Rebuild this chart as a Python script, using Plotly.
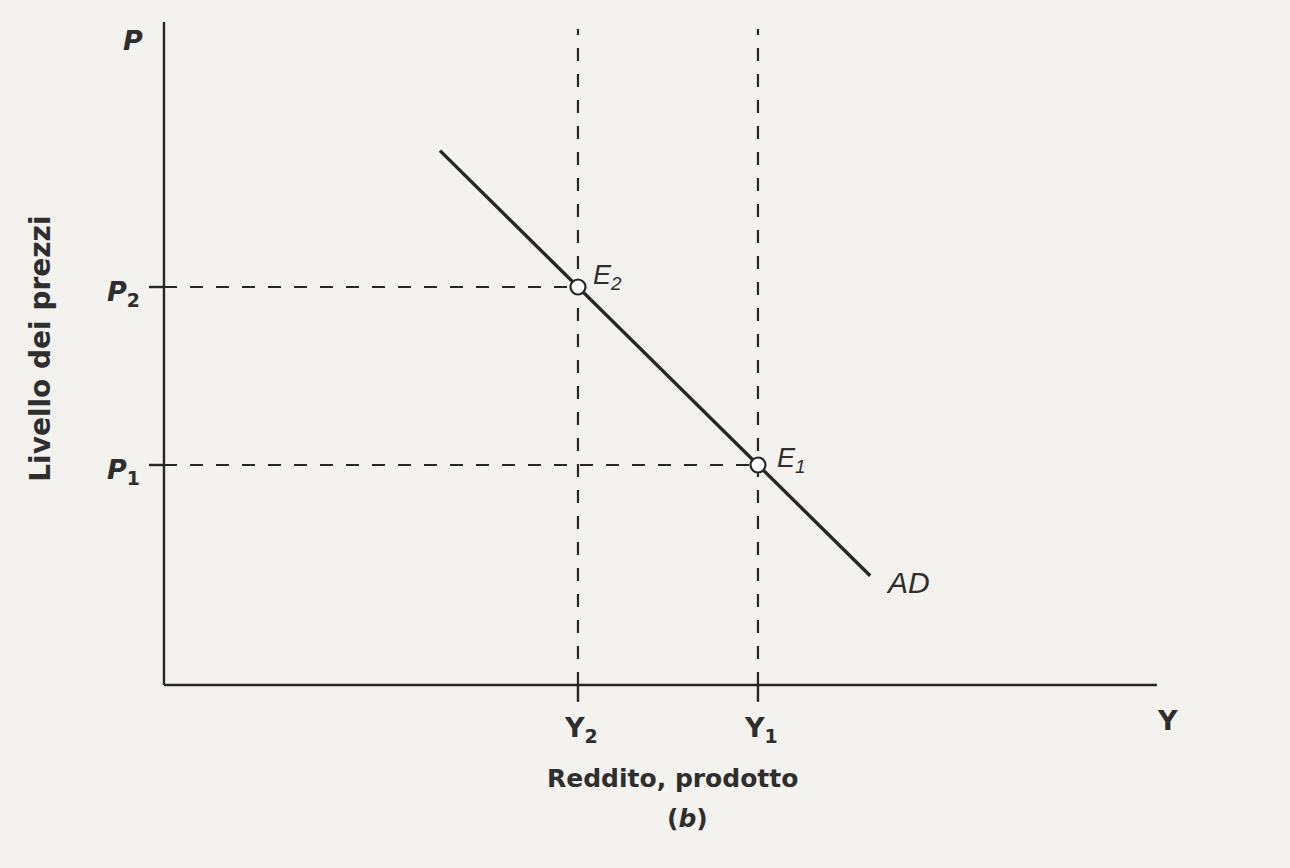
import plotly.graph_objects as go

# Output (Y) and price level (P) values for the two equilibria
y_levels = {"Y2": 6.9, "Y1": 9.9}
p_levels = {"P2": 9.95, "P1": 5.5}

# Aggregate demand curve AD
ad_x = [4.6, 6.9, 9.9, 11.77]
ad_p = [13.36, 9.95, 5.5, 2.73]

# Equilibrium points
eq_names = ["E2", "E1"]
eq_x = [6.9, 9.9]
eq_p = [9.95, 5.5]

# Axis extents
x_axis_end = 16.55
y_axis_end = 16.575
guide_top = 16.4

INK = "#262626"
TEXT = "#2e2e2e"
PAPER = "#f3f2ee"
BOLD = "DejaVu Sans"
ITAL = "Liberation Sans"

fig = go.Figure()

# dashed guides from the axes to the equilibria
for yk, pk in (("Y2", "P2"), ("Y1", "P1")):
    fig.add_trace(go.Scatter(
        x=[0, y_levels[yk]], y=[p_levels[pk], p_levels[pk]],
        mode="lines", line=dict(color=INK, width=2.2, dash="13px,13px"),
        hoverinfo="skip", showlegend=False))
    fig.add_trace(go.Scatter(
        x=[y_levels[yk], y_levels[yk]], y=[0, guide_top],
        mode="lines", line=dict(color=INK, width=2.2, dash="13px,13px"),
        hoverinfo="skip", showlegend=False))

# AD curve
fig.add_trace(go.Scatter(
    x=ad_x, y=ad_p, mode="lines",
    line=dict(color=INK, width=3.4),
    hoverinfo="skip", showlegend=False))

# equilibrium markers
fig.add_trace(go.Scatter(
    x=eq_x, y=eq_p, mode="markers",
    marker=dict(symbol="circle", size=15, color="#ffffff",
                line=dict(color=INK, width=2.2)),
    hoverinfo="skip", showlegend=False))

# axes and ticks
shapes = [
    dict(type="line", x0=0, y0=0, x1=0, y1=y_axis_end,
         line=dict(color=INK, width=2.4)),
    dict(type="line", x0=0, y0=0, x1=x_axis_end, y1=0,
         line=dict(color=INK, width=2.4)),
]
for v in p_levels.values():
    shapes.append(dict(type="line", x0=-0.25, y0=v, x1=0, y1=v,
                       line=dict(color=INK, width=2.4)))
for v in y_levels.values():
    shapes.append(dict(type="line", x0=v, y0=0, x1=v, y1=-0.42,
                       line=dict(color=INK, width=2.4)))

bold_font = dict(family=BOLD, size=27, color=TEXT, weight="bold")
annotations = []

# axis symbols
annotations.append(dict(x=-0.52, y=16.125, text="<b><i>P</i></b>",
                        font=bold_font, showarrow=False))
annotations.append(dict(x=16.73, y=-0.875, text="<b>Y</b>",
                        font=bold_font, showarrow=False))

# tick labels
for name, v in p_levels.items():
    annotations.append(dict(
        x=-0.36, y=v - 0.15, xanchor="right", yanchor="middle",
        text=f"<b><i>P</i></b><sub><b>{name[1]}</b></sub>",
        font=bold_font, showarrow=False))
for name, v in y_levels.items():
    annotations.append(dict(
        x=v + 0.05, y=-1.1, xanchor="center", yanchor="middle",
        text=f"<b>Y</b><sub><b>{name[1]}</b></sub>",
        font=bold_font, showarrow=False))

# equilibrium labels
ital_font = dict(family=ITAL, size=27, color=TEXT, style="italic")
eq_label_pos = {"E2": (7.12, 10.2), "E1": (10.18, 5.62)}
for name in eq_names:
    lx, ly = eq_label_pos[name]
    annotations.append(dict(
        x=lx, y=ly, xanchor="left", yanchor="middle",
        text=f"{name[0]}<sub>{name[1]}</sub>",
        font=ital_font, showarrow=False))
annotations.append(dict(x=12.0, y=2.575, xanchor="left", yanchor="middle",
                        text="AD", font=dict(family=ITAL, size=30, color=TEXT,
                                             style="italic"),
                        showarrow=False))

# axis titles
title_font = dict(family=BOLD, size=25, color=TEXT, weight="bold")
annotations.append(dict(x=8.47, y=-2.33, text="<b>Reddito, prodotto</b>",
                        font=title_font, showarrow=False))
annotations.append(dict(x=8.73, y=-3.33, text="<b>(<i>b</i>)</b>",
                        font=title_font, showarrow=False))
annotations.append(dict(x=-2.07, y=8.4, text="<b>Livello dei prezzi</b>",
                        textangle=-90,
                        font=dict(family=BOLD, size=28, color=TEXT,
                                  weight="bold"),
                        showarrow=False))

fig.update_layout(
    width=1290, height=868,
    margin=dict(l=0, r=0, t=0, b=0),
    paper_bgcolor=PAPER, plot_bgcolor=PAPER,
    xaxis=dict(range=[-2.733, 18.767], visible=False, fixedrange=True),
    yaxis=dict(range=[-4.575, 17.125], visible=False, fixedrange=True),
    shapes=shapes,
    annotations=annotations,
    showlegend=False,
)

fig.write_html("out.html")
